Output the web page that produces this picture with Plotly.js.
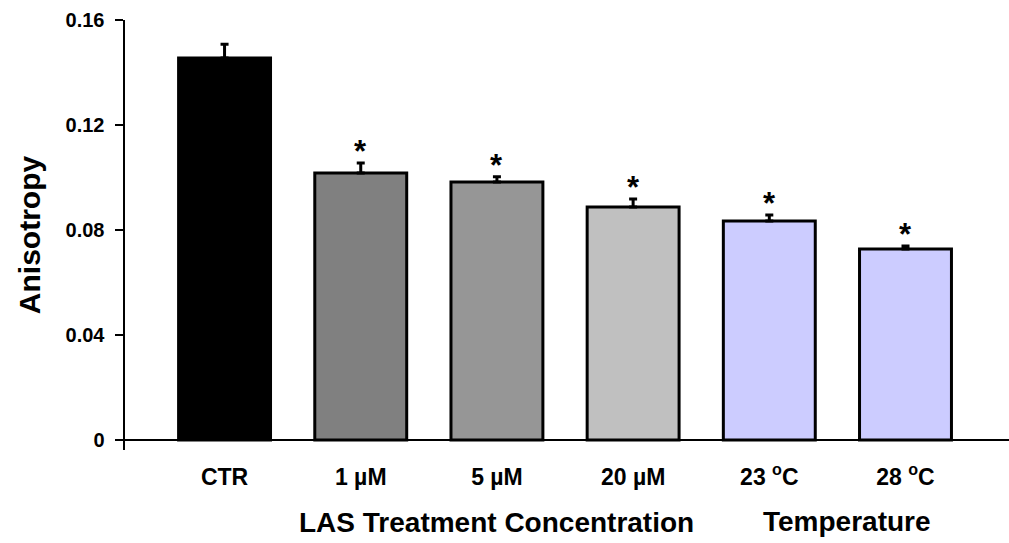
<!DOCTYPE html>
<html>
<head>
<meta charset="utf-8">
<script src="https://cdn.plot.ly/plotly-3.0.1.min.js"></script>
<style>html,body{margin:0;padding:0;background:#fff;}</style>
</head>
<body>
<div id="chart" style="width:1009px;height:543px;"></div>
<script>
var categories = ["CTR", "1 µM", "5 µM", "20 µM", "23 <sup>o</sup>C", "28 <sup>o</sup>C"];
var anisotropy = [0.1455, 0.1017, 0.0983, 0.0888, 0.0834, 0.0728];
var errorUp = [0.0053, 0.0038, 0.0020, 0.0030, 0.0023, 0.0011];
var significant = [false, true, true, true, true, true];
var barColors = ["#000000", "#808080", "#969696", "#c0c0c0", "#ccccff", "#ccccff"];
var yTicks = [0, 0.04, 0.08, 0.12, 0.16];
var yTickLabels = ["0", "0.04", "0.08", "0.12", "0.16"];
var groupLabels = ["LAS Treatment Concentration", "Temperature"];

var FONT = "Arial, 'Liberation Sans', sans-serif";

var trace = {
  type: "bar",
  x: categories.map(function(c, i){ return i; }),
  y: anisotropy,
  marker: {color: barColors, line: {color: "#000", width: 3}},
  width: 0.675,
  error_y: {type: "data", symmetric: false, array: errorUp, arrayminus: errorUp.map(function(){return 0;}), color: "#000", thickness: 3, width: 4},
  hoverinfo: "none"
};

var annotations = [
  {text: groupLabels[0], xref: "paper", yref: "paper", x: (496-125)/884, y: -(522-450)/430, xanchor: "center", yanchor: "middle", showarrow: false, font: {family: FONT, size: 28, weight: "bold"}},
  {text: groupLabels[1], xref: "paper", yref: "paper", x: (847-125)/884, y: -(521-450)/430, xanchor: "center", yanchor: "middle", showarrow: false, font: {family: FONT, size: 28, weight: "bold"}}
];
significant.forEach(function(s, i){
  if (s) {
    annotations.push({text: "*", x: i, y: anisotropy[i] + errorUp[i], xref: "x", yref: "y",
      xanchor: "center", yanchor: "bottom", yshift: -8, showarrow: false,
      font: {family: FONT, size: 31, color: "#000", weight: "bold"}});
  }
});

var layout = {
  width: 1009, height: 543,
  margin: {l: 125, r: 0, t: 20, b: 93},
  paper_bgcolor: "#fff", plot_bgcolor: "#fff",
  showlegend: false,
  font: {family: FONT, color: "#000"},
  xaxis: {
    range: [-0.731, 5.76],
    tickmode: "array", tickvals: categories.map(function(c, i){ return i; }), ticktext: categories,
    tickfont: {family: FONT, size: 23, weight: "bold"},
    ticks: "", showline: false, showgrid: false, zeroline: false,
    ticklabelstandoff: 11
  },
  yaxis: {
    range: [-0.0038, 0.16],
    tickmode: "array", tickvals: yTicks, ticktext: yTickLabels,
    tickfont: {family: FONT, size: 20, weight: "bold"},
    ticks: "outside", ticklen: 8, tickwidth: 2.5, tickcolor: "#000",
    ticklabelstandoff: 6,
    showline: true, linecolor: "#000", linewidth: 2.5,
    showgrid: false,
    zeroline: true, zerolinecolor: "#000", zerolinewidth: 2.5,
    title: {text: "Anisotropy", font: {family: FONT, size: 30, weight: "bold"}, standoff: 16}
  },
  annotations: annotations
};

Plotly.newPlot("chart", [trace], layout, {displayModeBar: false, staticPlot: true});
</script>
</body>
</html>
